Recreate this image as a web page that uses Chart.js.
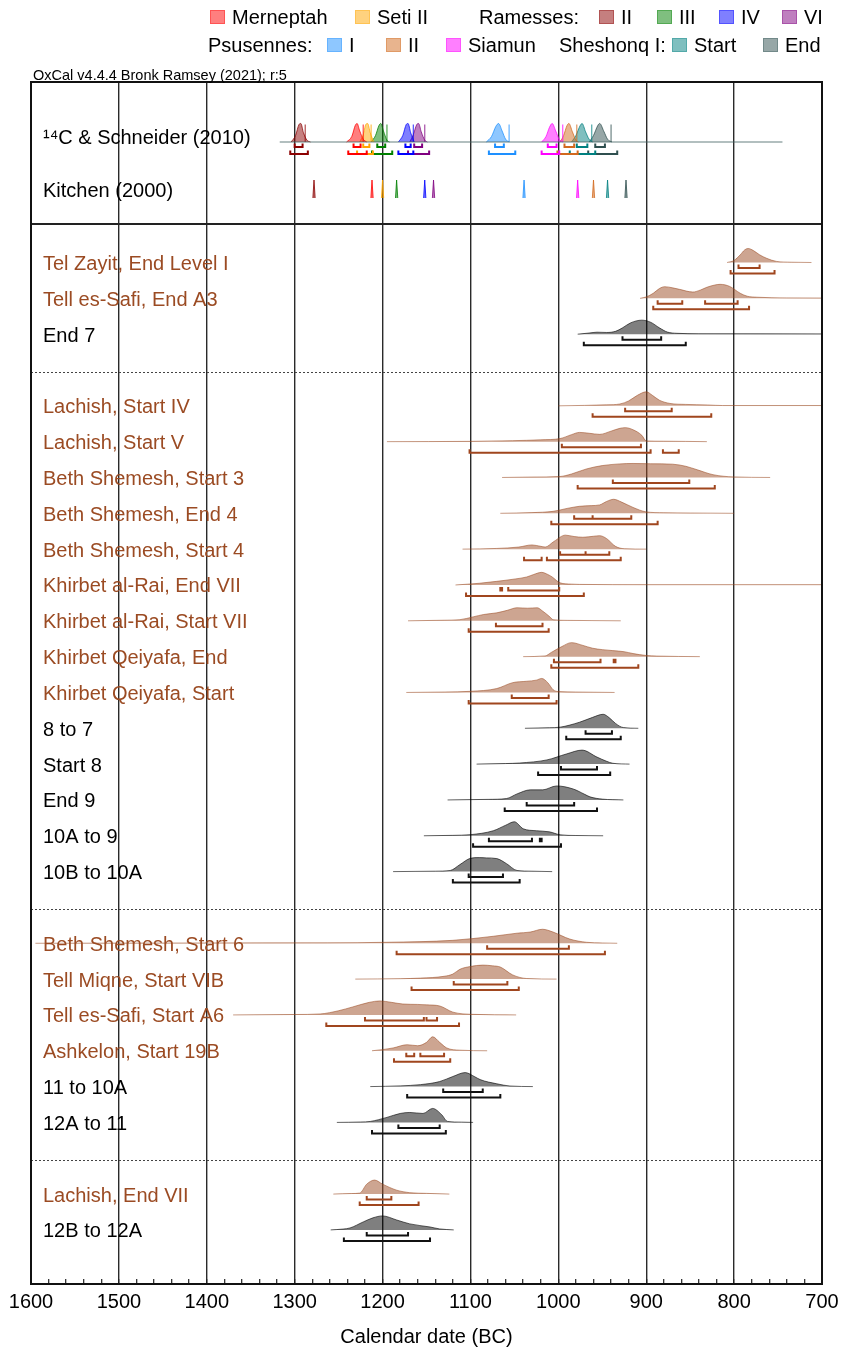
<!DOCTYPE html>
<html><head><meta charset="utf-8">
<script src="https://cdn.jsdelivr.net/npm/chart.js@4.4.0/dist/chart.umd.min.js"></script>
<style>
html,body{margin:0;padding:0;background:#fff;}
#wrap{position:relative;width:843px;height:1352px;font-family:"Liberation Sans",Arial,sans-serif;}
canvas{position:absolute;left:0;top:0;}
.lg{position:absolute;font-size:20px;line-height:22px;color:#000;white-space:nowrap;transform:translateY(-50%);}
.sw{position:absolute;width:15px;height:14px;transform:translateY(-50%);box-sizing:border-box;}
#oxcal{position:absolute;left:33px;top:67px;font-size:14.5px;line-height:16px;color:#000;}
</style></head>
<body><div id="wrap"><canvas id="c" width="843" height="1352"></canvas><div id="legend"></div><div id="oxcal">OxCal v4.4.4 Bronk Ramsey (2021); r:5</div></div>
<script>
// ---------------- DATA ----------------
const xMin = 700, xMax = 1600, xStep = 20;

// top panel: reigns
const reignNames = ['Ramesses II','Merneptah','Seti II','Ramesses III','Ramesses IV','Ramesses VI','Psusennes I','Siamun','Psusennes II','Sheshonq I Start','Sheshonq I End'];
const legendShort = ['II','Merneptah','Seti II','III','IV','VI','I','Siamun','II','Start','End'];
const c14Dist = [
  [[1304,0],[1299,0.35],[1295,0.95],[1293,1],[1290,0.5],[1286,0.1],[1282,0]],
  [[1241,0],[1235,0.3],[1231,0.9],[1229,1],[1226,0.6],[1222,0.15],[1218,0]],
  [[1226,0],[1222,0.4],[1219,0.95],[1217,1],[1214,0.5],[1210,0]],
  [[1213,0],[1208,0.35],[1204,0.9],[1202,1],[1199,0.6],[1195,0.1],[1192,0]],
  [[1182,0],[1177,0.35],[1173,0.95],[1171,1],[1168,0.5],[1164,0]],
  [[1169,0],[1165,0.4],[1161,0.95],[1159,1],[1156,0.55],[1152,0.1],[1149,0]],
  [[1082,0],[1076,0.3],[1071,0.85],[1068,1],[1064,0.6],[1060,0.15],[1056,0]],
  [[1019,0],[1014,0.3],[1010,0.8],[1007,1],[1003,0.6],[999,0.15],[995,0]],
  [[998,0],[994,0.35],[990,0.9],[988,1],[984,0.55],[980,0.1],[977,0]],
  [[985,0],[980,0.35],[975,0.9],[973,1],[969,0.55],[965,0.15],[961,0]],
  [[965,0],[960,0.35],[955,0.9],[953,1],[948,0.55],[944,0.15],[939,0]]
];
const c14Range68 = [[1300,1291],[1233,1225],[1222,1215],[1206,1197],[1174,1168],[1164,1155],[1072,1062],[1012,1002],[993,982],[979,967],[958,947]];
const c14Range95 = [[1305,1285],[1239,1218],[1229,1211],[1212,1189],[1182,1165],[1171,1147],[1079,1049],[1019,999],[1001,978],[987,958],[966,933]];
const schneiderDates = [1288,1222,1213,1195,1165,1152,1056,995,979,962,940];
const kitchenDates = [1278,1212,1200,1184,1152,1142,1039,978,960,944,923];
const c14Tail = [1317, 745];

// main panel
const groupSizes = [3, 14, 6, 2];
const mainLabels = ['Tel Zayit, End Level I','Tell es-Safi, End A3','End 7',
  'Lachish, Start IV','Lachish, Start V','Beth Shemesh, Start 3','Beth Shemesh, End 4','Beth Shemesh, Start 4',
  'Khirbet al-Rai, End VII','Khirbet al-Rai, Start VII','Khirbet Qeiyafa, End','Khirbet Qeiyafa, Start',
  '8 to 7','Start 8','End 9','10A to 9','10B to 10A',
  'Beth Shemesh, Start 6','Tell Miqne, Start VIB','Tell es-Safi, Start A6','Ashkelon, Start 19B','11 to 10A','12A to 11',
  'Lachish, End VII','12B to 12A'];
const mainIsSite = [1,1,0, 1,1,1,1,1,1,1,1,1,0,0,0,0,0, 1,1,1,1,0,0, 1,0];
const mainDist = [
  [[808,0],[800,0.15],[793,0.55],[788,0.9],[784,1],[778,0.85],[771,0.55],[763,0.3],[752,0.08],[735,0.02],[712,0]],
  [[907,0],[900,0.1],[892,0.36],[885,0.7],[879,0.83],[870,0.75],[862,0.64],[847,0.45],[838,0.6],[831,0.79],[822,0.95],[816,1],[805,0.85],[793,0.36],[785,0.15],[774,0.08],[740,0.03],[700,0.02]],
  [[978,0],[965,0.08],[956,0.14],[945,0.12],[935,0.2],[927,0.45],[918,0.8],[905,1],[895,0.85],[885,0.45],[876,0.15],[865,0.06],[840,0.03],[700,0.02]],
  [[1000,0],[970,0.03],[945,0.07],[930,0.13],[920,0.35],[910,0.75],[900,1],[893,0.75],[885,0.4],[873,0.17],[855,0.1],[830,0.06],[813,0.02],[700,0.02]],
  [[1195,0],[1100,0.02],[1052,0.07],[1020,0.13],[998,0.22],[985,0.5],[976,0.66],[965,0.6],[953,0.52],[940,0.75],[930,0.95],[924,1],[915,0.85],[905,0.45],[900,0.05],[880,0.03],[831,0]],
  [[1064,0],[1030,0.03],[998,0.07],[985,0.25],[968,0.61],[950,0.85],[930,0.97],[915,1],[895,0.98],[870,0.95],[855,0.8],[842,0.55],[824,0.2],[801,0.04],[759,0]],
  [[1066,0],[1030,0.05],[1006,0.14],[990,0.35],[976,0.5],[962,0.55],[953,0.6],[945,0.85],[937,1],[928,0.8],[915,0.42],[900,0.1],[880,0.04],[850,0.02],[800,0]],
  [[1109,0],[1070,0.05],[1045,0.15],[1030,0.3],[1020,0.2],[1015,0.15],[1005,0.55],[992,1],[982,0.9],[972,0.85],[960,0.92],[953,0.96],[945,0.75],[935,0.2],[925,0.03],[900,0]],
  [[1117,0],[1090,0.12],[1070,0.26],[1049,0.43],[1036,0.57],[1028,0.75],[1019,0.9],[1012,0.75],[1007,0.57],[998,0.15],[985,0.06],[976,0.04],[900,0.02],[700,0.02]],
  [[1171,0],[1130,0.04],[1112,0.08],[1097,0.28],[1085,0.45],[1070,0.57],[1058,0.75],[1047,0.93],[1035,0.9],[1024,0.93],[1018,0.7],[1010,0.3],[1006,0.08],[990,0.03],[929,0]],
  [[1040,0],[1015,0.05],[1008,0.3],[996,0.72],[985,1],[972,0.8],[961,0.6],[950,0.5],[938,0.43],[925,0.35],[915,0.22],[900,0.08],[888,0.04],[839,0]],
  [[1173,0],[1130,0.03],[1100,0.08],[1070,0.28],[1052,0.7],[1036,0.8],[1025,0.88],[1019,1],[1012,0.7],[1006,0.2],[1000,0.06],[980,0.03],[936,0]],
  [[1038,0],[1010,0.04],[998,0.08],[976,0.43],[961,0.78],[949,1],[942,0.75],[935,0.35],[926,0.05],[909,0]],
  [[1093,0],[1060,0.04],[1044,0.08],[1013,0.3],[991,0.72],[973,1],[956,0.5],[945,0.2],[938,0.06],[919,0]],
  [[1126,0],[1080,0.04],[1059,0.1],[1047,0.43],[1032,0.72],[1018,0.72],[1002,1],[983,0.78],[970,0.4],[964,0.22],[950,0.06],[926,0]],
  [[1153,0],[1120,0.03],[1100,0.08],[1074,0.36],[1060,0.75],[1050,1],[1040,0.5],[1025,0.36],[1010,0.28],[998,0.07],[980,0.02],[949,0]],
  [[1188,0],[1140,0.03],[1123,0.08],[1112,0.5],[1100,0.95],[1090,1],[1082,0.98],[1070,0.93],[1059,0.57],[1047,0.08],[1030,0.03],[1007,0]],
  [[1595,0],[1400,0.02],[1263,0.03],[1195,0.07],[1120,0.21],[1074,0.5],[1047,0.72],[1032,0.8],[1018,1],[1006,0.8],[987,0.3],[968,0.07],[950,0.02],[933,0]],
  [[1231,0],[1180,0.03],[1157,0.07],[1130,0.2],[1120,0.36],[1112,0.7],[1100,0.9],[1086,1],[1075,0.95],[1066,0.86],[1052,0.3],[1036,0.04],[1002,0]],
  [[1370,0],[1300,0.03],[1271,0.07],[1250,0.3],[1234,0.57],[1215,0.9],[1203,1],[1190,0.9],[1177,0.78],[1160,0.75],[1150,0.72],[1135,0.64],[1120,0.2],[1097,0.04],[1048,0]],
  [[1212,0],[1200,0.08],[1188,0.2],[1172,0.43],[1160,0.36],[1150,0.6],[1143,1],[1135,0.6],[1127,0.2],[1112,0.04],[1081,0]],
  [[1214,0],[1180,0.05],[1157,0.14],[1135,0.36],[1120,0.72],[1106,1],[1095,0.7],[1089,0.5],[1070,0.2],[1055,0.04],[1029,0]],
  [[1252,0],[1225,0.03],[1214,0.07],[1195,0.36],[1180,0.64],[1169,0.71],[1154,0.64],[1143,1],[1133,0.57],[1126,0.07],[1110,0.02],[1097,0]],
  [[1256,0],[1235,0.04],[1226,0.07],[1218,0.71],[1209,1],[1200,0.71],[1184,0.28],[1169,0.1],[1150,0.05],[1124,0]],
  [[1259,0],[1245,0.06],[1237,0.14],[1222,0.57],[1211,0.86],[1200,1],[1184,0.71],[1169,0.43],[1146,0.21],[1135,0.07],[1119,0]]
];
const mainRange68 = [
  [[795,771]],[[887,859],[833,796]],[[927,883]],
  [[924,871]],[[996,906]],[[938,851]],[[982,961],[961,917]],[[998,969],[969,942]],
  [[1066,1064],[1057,999]],[[1071,1018]],[[1005,952],[937,935]],[[1053,1011]],
  [[969,939]],[[997,956]],[[1036,982]],[[1079,1030],[1021,1019]],[[1102,1063]],
  [[1081,988]],[[1119,1058]],[[1220,1153],[1150,1138]],[[1173,1164],[1157,1130]],[[1131,1086]],[[1182,1135]],
  [[1218,1190]],[[1218,1171]]
];
const mainRange95 = [
  [[804,754]],[[892,783]],[[971,855]],
  [[961,826]],[[1101,895],[881,863]],[[978,822]],[[1008,887]],[[1039,1019],[1013,929]],
  [[1105,971]],[[1102,1011]],[[1008,909]],[[1102,1002]],
  [[991,929]],[[1023,941]],[[1061,956]],[[1097,997]],[[1120,1044]],
  [[1184,947]],[[1167,1045]],[[1264,1113]],[[1187,1123]],[[1172,1066]],[[1212,1128]],
  [[1226,1159]],[[1244,1146]]
];

// ---------------- STYLE / LAYOUT ----------------
const reignRGB = ['139,0,0','255,0,0','255,165,0','0,128,0','0,0,255','128,0,128','30,144,255','255,0,255','210,105,30','0,128,128','47,79,79'];
const FONT = '"Liberation Sans", Arial, sans-serif';
const ROW0_PX = 264.5, ROW_PX = 35.83, TOP_PX = 82, BOT_PX = 1284;
const toV = p => (p - ROW0_PX) / ROW_PX;   // pixel -> row units
const dV = p => p / ROW_PX;                 // pixel distance -> row units
const yMinV = toV(TOP_PX), yMaxV = toV(BOT_PX);

const rowPos = []; const gapRows = [];
{ let r = 0; groupSizes.forEach((n, g) => { for (let i = 0; i < n; i++) rowPos.push(r++); if (g < groupSizes.length - 1) gapRows.push(r++); }); }

const c14LabelV = toV(138), kitchenLabelV = toV(191), topDividerV = toV(224);
const c14Base = toV(142), c14H = dV(18.5);
const kitBase = toV(198), kitH = dV(18);

const SITE = '155,75,35';
const datasets = [];
function bracket(ranges, yv, tick) {
  const pts = [];
  ranges.forEach(([a, b]) => { pts.push({x:a,y:yv-tick},{x:a,y:yv},{x:b,y:yv},{x:b,y:yv-tick},{x:b,y:null}); });
  return pts;
}
const lineBase = {type:'line', pointRadius:0, spanGaps:false};

// top panel
datasets.push({...lineBase, data:[{x:c14Tail[0],y:c14Base},{x:c14Tail[1],y:c14Base}], borderColor:'rgba(70,100,100,0.55)', borderWidth:1.5, fill:false});
c14Dist.forEach((d, i) => {
  const col = reignRGB[i];
  datasets.push({...lineBase, data:d.map(([x,h]) => ({x, y:c14Base - h*c14H})), fill:{value:c14Base}, backgroundColor:`rgba(${col},0.5)`, borderColor:`rgba(${col},0.75)`, borderWidth:1, cubicInterpolationMode:'monotone'});
  datasets.push({...lineBase, data:[{x:schneiderDates[i],y:c14Base},{x:schneiderDates[i],y:c14Base - 0.95*c14H}], borderColor:`rgba(${col},0.7)`, borderWidth:1.2, fill:false});
  datasets.push({...lineBase, data:bracket([c14Range68[i]], c14Base + dV(5), dV(3.5)), borderColor:`rgb(${col})`, borderWidth:2, fill:false});
  datasets.push({...lineBase, data:bracket([c14Range95[i]], c14Base + dV(12), dV(3.5)), borderColor:`rgb(${col})`, borderWidth:2, fill:false});
  const k = kitchenDates[i];
  datasets.push({...lineBase, data:[{x:k+1.3,y:kitBase},{x:k,y:kitBase-kitH},{x:k-1.3,y:kitBase}], fill:{value:kitBase}, backgroundColor:`rgba(${col},0.55)`, borderColor:`rgba(${col},0.8)`, borderWidth:1});
});

// main panel
mainDist.forEach((d, i) => {
  const site = mainIsSite[i];
  const base = rowPos[i] - dV(2);
  const H = dV(14);
  datasets.push({...lineBase, data:d.map(([x,h]) => ({x, y:base - h*H})), fill:{value:base},
    backgroundColor: site ? `rgba(${SITE},0.5)` : 'rgba(0,0,0,0.5)',
    borderColor: site ? `rgba(${SITE},0.55)` : 'rgba(0,0,0,0.6)', borderWidth:1, cubicInterpolationMode:'monotone'});
  const bc = site ? 'rgb(160,70,30)' : '#111';
  datasets.push({...lineBase, data:bracket(mainRange68[i], rowPos[i] + dV(3.5), dV(3.5)), borderColor:bc, borderWidth:2, fill:false});
  datasets.push({...lineBase, data:bracket(mainRange95[i], rowPos[i] + dV(9), dV(3.5)), borderColor:bc, borderWidth:2, fill:false});
});

const tickVals = [c14LabelV, kitchenLabelV, ...rowPos];
const tickLabels = ['\u00B9\u2074C & Schneider (2010)', 'Kitchen (2000)', ...mainLabels];
const tickColors = ['#000', '#000', ...mainIsSite.map(s => s ? `rgb(${SITE})` : '#000')];

const framePlugin = {
  id: 'frame',
  afterDraw(chart) {
    const {ctx, chartArea: a, scales: {y}} = chart;
    ctx.save();
    ctx.strokeStyle = '#222';
    ctx.lineWidth = 2;
    let py = Math.round(y.getPixelForValue(topDividerV));
    ctx.beginPath(); ctx.moveTo(a.left, py); ctx.lineTo(a.right, py); ctx.stroke();
    ctx.lineWidth = 1.2; ctx.strokeStyle = '#444'; ctx.setLineDash([2, 2]);
    gapRows.forEach(g => {
      py = Math.round(y.getPixelForValue(g)) + 0.5;
      ctx.beginPath(); ctx.moveTo(a.left, py); ctx.lineTo(a.right, py); ctx.stroke();
    });
    ctx.setLineDash([]); ctx.lineWidth = 2; ctx.strokeStyle = '#111';
    ctx.strokeRect(a.left, a.top, a.right - a.left, a.bottom - a.top);
    ctx.restore();
  }
};

new Chart(document.getElementById('c'), {
  type: 'line',
  data: { datasets },
  options: {
    responsive: false, animation: false, events: [], devicePixelRatio: 1,
    layout: { padding: { top: 82, left: 31, right: 21, bottom: 0 } },
    plugins: { legend: { display: false }, tooltip: { enabled: false }, title: { display: false } },
    scales: {
      x: {
        type: 'linear', position: 'bottom', min: xMin, max: xMax, reverse: true,
        afterFit: s => { s.height = 68; s.paddingLeft = 0; s.paddingRight = 0; },
        border: { display: false },
        grid: {
          color: c => (c.tick && c.tick.value % 100 === 0) ? '#2a2a2a' : 'rgba(0,0,0,0)',
          lineWidth: 1.4, drawTicks: true, tickLength: -5, tickColor: '#222', tickWidth: 1.2
        },
        ticks: { stepSize: xStep, autoSkip: false, maxRotation: 0, padding: 11, color: '#000',
          font: { family: FONT, size: 20 }, callback: v => (v % 100 === 0 ? String(v) : '') },
        title: { display: true, text: 'Calendar date (BC)', color: '#000', font: { family: FONT, size: 20 }, padding: { top: 0, bottom: 3 } }
      },
      y: {
        type: 'linear', position: 'left', min: yMinV, max: yMaxV, reverse: true,
        afterFit: s => { s.width = 0; s.paddingTop = 0; s.paddingBottom = 0; },
        afterBuildTicks: s => { s.ticks = tickVals.map(v => ({ value: v })); },
        border: { display: false }, grid: { display: false },
        ticks: { mirror: true, padding: 12, autoSkip: false, font: { family: FONT, size: 20 },
          color: c => tickColors[c.index], callback: (v, i) => tickLabels[i] }
      }
    }
  },
  plugins: [framePlugin]
});

// legend (HTML, real text)
const L = document.getElementById('legend');
function addText(t, x, yc) { const d = document.createElement('div'); d.className = 'lg'; d.textContent = t; d.style.left = x + 'px'; d.style.top = yc + 'px'; L.appendChild(d); }
function addItem(i, x, yc) {
  const s = document.createElement('div'); s.className = 'sw';
  s.style.left = x + 'px'; s.style.top = yc + 'px';
  s.style.background = `rgba(${reignRGB[i]},0.5)`; s.style.border = `1px solid rgba(${reignRGB[i]},0.35)`;
  L.appendChild(s); addText(legendShort[i], x + 22, yc);
}
const R1 = 17, R2 = 45;
addItem(1, 210, R1); addItem(2, 355, R1); addText('Ramesses:', 479, R1);
addItem(0, 599, R1); addItem(3, 657, R1); addItem(4, 719, R1); addItem(5, 782, R1);
addText('Psusennes:', 208, R2); addItem(6, 327, R2); addItem(8, 386, R2); addItem(7, 446, R2);
addText('Sheshonq I:', 559, R2); addItem(9, 672, R2); addItem(10, 763, R2);
</script></body></html>
